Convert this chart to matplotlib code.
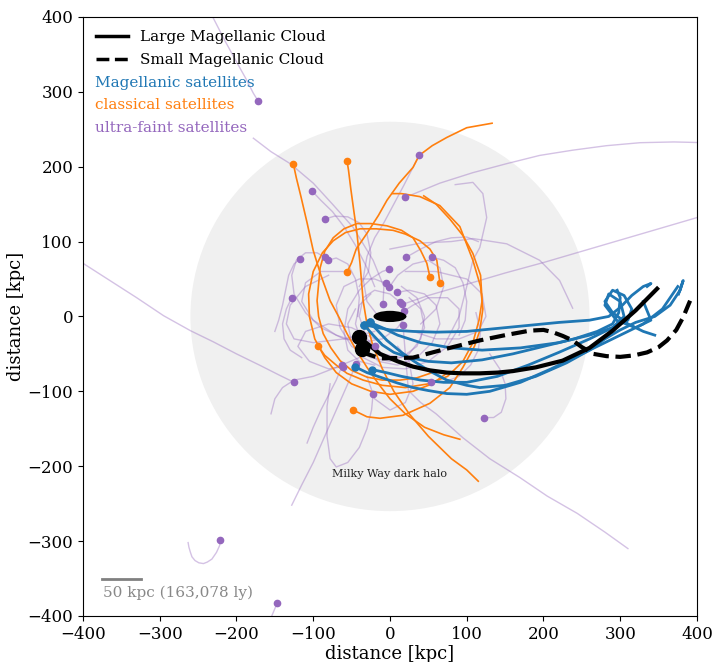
import matplotlib
matplotlib.use("Agg")
import matplotlib.pyplot as plt
from matplotlib.lines import Line2D
from matplotlib.patches import Circle, Ellipse

plt.rcParams['font.family'] = ['DejaVu Serif']

BLUE = '#1f77b4'
ORANGE = '#ff7f0e'
PURPLE = '#9467bd'

# ---- Magellanic Clouds (current position first) ----
lmc_x = [-40, -25, -13, 10, 30, 52, 74, 95, 117, 140, 160, 190, 225, 260, 290, 320, 348]
lmc_y = [-28, -40, -50, -60, -67, -72, -75, -76, -76, -75, -73, -68, -59, -42, -19, 8, 37]
smc_x = [-36, -30, -13, 30, 74, 117, 150, 182, 200, 212, 225, 238, 250, 265, 282, 300, 318, 335, 350, 361, 373, 382, 391]
smc_y = [-44, -50, -56, -55, -43, -32, -25, -19, -18, -21, -26, -32, -41, -50, -53, -54, -52, -48, -41, -32, -18, -1, 21]

# ---- Magellanic satellites (blue) ----
mag_trails = [
    ([-34, -20, 0, 30, 60, 100, 140, 180, 220, 260, 285, 300, 315, 330, 340, 335],
     [-11, -14, -18, -20, -21, -20, -16, -12, -8, -5, 0, 12, 28, 40, 44, 40]),
    ([-26, -15, -4, 15, 30, 50, 74, 100, 117, 150, 190, 230, 260, 280, 300, 320, 345, 365, 378, 382, 376],
     [-8, -20, -32, -48, -59, -72, -85, -92, -95, -92, -80, -62, -45, -30, -18, -8, 0, 15, 35, 48, 30]),
    ([-46, -30, -13, 10, 30, 50, 74, 100, 130, 170, 210, 240, 270, 300, 330, 355, 375],
     [-67, -75, -81, -89, -95, -99, -103, -104, -100, -88, -70, -55, -40, -25, -10, 10, 40]),
    ([-23, -5, 15, 40, 70, 100, 140, 180, 220, 260, 290, 305, 300, 285, 280, 295, 320, 340, 330],
     [-71, -75, -80, -85, -88, -88, -80, -65, -48, -30, -15, 0, 20, 30, 15, -5, -15, -5, 20]),
    ([-34, -22, -10, 5, 25, 50, 80, 120, 160, 200, 240, 270, 290, 298, 300, 296],
     [-11, -25, -38, -48, -55, -60, -62, -58, -50, -40, -30, -20, -10, 5, 25, 35]),
    ([-26, -10, 10, 40, 80, 120, 170, 220, 260, 290, 310, 315, 305, 290, 280, 290, 310, 330, 345],
     [-8, -15, -25, -35, -42, -45, -42, -35, -25, -15, -5, 10, 28, 35, 20, 5, -10, -20, -25]),
]

# ---- classical satellites (orange) ----
cls_trails = [
    ([-126, -122, -116, -108, -100, -90, -78, -66, -56, -44, -30, -15, 0, 20, 45, 70, 91],
     [204, 185, 160, 125, 88, 55, 21, -2, -23, -45, -68, -90, -110, -130, -148, -158, -164]),
    ([-56, -54, -51, -47, -43, -39, -35, -30, -22, -10, 5, 25, 50, 80, 100, 115],
     [208, 195, 170, 140, 111, 70, 21, -10, -40, -70, -100, -130, -160, -190, -205, -220]),
    ([-56, -50, -44, -30, -15, -4, 12, 30, 38, 55, 74, 100, 133],
     [59, 72, 90, 111, 135, 155, 178, 199, 215, 228, 239, 252, 258]),
    ([52, 48, 40, 30, 15, -4, -25, -43, -60, -74, -85, -91, -95, -93, -87, -77, -65, -50, -30, -10, 13, 35, 55],
     [53, 71, 88, 105, 115, 121, 124, 124, 117, 105, 87, 65, 21, 0, -23, -42, -59, -72, -81, -85, -85, -82, -75]),
    ([65, 63, 61, 52, 39, 20, 4, -18, -39, -58, -74, -88, -100, -106, -105, -98, -85, -70, -50, -25, 0, 30, 55, 75],
     [45, 60, 75, 90, 101, 110, 115, 117, 117, 112, 101, 85, 60, 30, 0, -30, -55, -75, -90, -100, -104, -100, -90, -75]),
    ([-48, -30, -13, 17, 52, 78, 95, 110, 117, 121, 118, 108, 91, 65, 39, 15, 3],
     [-125, -134, -136, -132, -116, -95, -68, -40, -19, 10, 40, 75, 120, 148, 160, 164, 164]),
    ([-94, -85, -70, -56, -35, -10, 20, 50, 75, 95, 108, 116, 120, 118, 108, 95, 78, 60, 44],
     [-39, -52, -65, -76, -85, -92, -95, -90, -80, -60, -35, -5, 21, 55, 84, 108, 130, 150, 161]),
]

# ---- ultra-faint satellites (purple) ----
uf_trails = [
    ([-172, -178, -188, -200, -215, -232], [288, 298, 318, 340, 368, 402]),
    ([38, 28, 18, 5, -8, -20, -30, -35, -30, -15], [215, 195, 175, 150, 125, 105, 80, 50, 20, 0]),
    ([20, 65, 108, 152, 195, 238, 282, 326, 370, 410], [159, 178, 192, 204, 215, 222, 228, 232, 233, 232]),
    ([16, 50, 87, 150, 200, 250, 300, 350, 400, 420], [16, 28, 39, 58, 72, 87, 102, 117, 132, 138]),
    ([-9, -8, -22, -48, -75, -100, -130, -155, -178], [17, 40, 75, 119, 150, 178, 204, 220, 238]),
    ([-102, -90, -75, -60, -45, -30, -20], [168, 155, 140, 120, 95, 65, 40]),
    ([-85, -72, -55, -40, -30, -25, -28, -40], [130, 134, 133, 125, 110, 85, 60, 40]),
    ([-117, -125, -132, -136, -140, -145, -150], [77, 70, 55, 35, 15, -5, -20]),
    ([-85, -95, -110, -122, -128, -125, -110, -90, -60, -30], [79, 85, 85, 75, 55, 30, 5, -15, -30, -35]),
    ([-81, -70, -55, -45, -40, -42], [75, 78, 70, 50, 25, 0]),
    ([-128, -135, -140, -138, -130, -115], [25, 10, -10, -30, -45, -55]),
    ([55, 70, 85, 95, 100, 98, 90], [79, 75, 65, 45, 20, -5, -25]),
    ([21, 40, 60, 80, 100, 115], [79, 90, 100, 105, 106, 100]),
    ([-1, -10, -25, -40, -55, -60, -55, -40, -20], [63, 60, 50, 35, 10, -20, -45, -60, -65]),
    ([-5, -20, -40, -60, -70, -65, -50, -25, 0, 25, 40, 45, 35, 15], [44, 50, 50, 40, 15, -15, -40, -55, -60, -50, -30, 0, 25, 40]),
    ([9, 25, 45, 60, 65, 55, 35, 10, -15, -35, -45, -40, -25], [32, 35, 30, 15, -10, -35, -55, -65, -60, -40, -10, 15, 30]),
    ([13, 0, -20, -35, -40, -30, -10, 15, 35, 45, 40, 25], [19, 30, 35, 25, 0, -30, -50, -55, -40, -15, 10, 25]),
    ([18, 30, 50, 75, 90, 90, 75, 50, 20, -10, -35, -50, -55, -45], [7, 15, 25, 25, 10, -15, -40, -60, -70, -68, -55, -35, -10, 10]),
    ([-1, 10, 30, 50, 65, 70, 60, 40], [39, 55, 70, 75, 65, 40, 10, -10]),
    ([-125, -143, -170, -200, -230, -260, -295, -330, -365, -400, -420], [-88, -79, -65, -50, -34, -19, 1, 25, 48, 71, 84]),
    ([17, 20, 24, 40, 60, 95, 130, 169, 205, 244, 280, 310], [-12, -50, -99, -115, -130, -162, -190, -215, -240, -263, -288, -310]),
    ([-44, -55, -70, -85, -100, -115, -128], [-63, -90, -125, -160, -195, -225, -252]),
    ([-62, -70, -80, -90, -100, -108], [-65, -85, -105, -125, -148, -169]),
    ([-22, -24, -30, -40, -55, -70, -78, -82, -82, -78], [-103, -125, -150, -175, -195, -201, -190, -160, -120, -90]),
    ([53, 70, 90, 105, 115, 118, 112], [-87, -88, -80, -65, -45, -20, 5]),
    ([122, 135, 145, 151, 150, 143, 130], [-135, -135, -128, -110, -90, -70, -50]),
    ([-221, -222, -226, -232, -238, -243, -249, -254, -258, -260, -262, -263], [-299, -306, -315, -324, -328, -330, -329, -326, -321, -315, -308, -302]),
    ([-147, -152, -156], [-383, -395, -405]),
    ([-61, -80, -105, -120, -110, -80, -50, -20], [-67, -70, -60, -40, -20, -10, -15, -30]),
    ([-20, -40, -75, -100, -125, -140, -150, -155], [-40, -55, -70, -80, -85, -95, -110, -130]),
]
uf_extra = [
    ([0, 40, 80, 108, 152, 195, 221, 238], [90, 98, 100, 104, 97, 75, 48, 11]),
    ([85, 108, 121, 126, 117, 108, 100, 90, 70], [176, 179, 164, 132, 92, 75, 40, 0, -40]),
    ([-60, -90, -110, -115, -100, -70, -40, -10, 10, 20], [60, 60, 45, 20, -5, -25, -35, -30, -15, 0]),
    ([20, 60, 100, 120, 125, 115, 90, 60, 30], [60, 60, 50, 30, 0, -20, -30, -30, -20]),
    ([-20, -60, -100, -125, -135, -130, -110, -80], [-20, -30, -35, -30, -10, 15, 40, 55]),
    ([-30, -20, 0, 20, 30, 25, 10], [-80, -110, -125, -115, -90, -60, -40]),
]

halo_radius = 260
halo_label = 'Milky Way dark halo'
scale_label = '50 kpc (163,078 ly)'
ticks = [-400, -300, -200, -100, 0, 100, 200, 300, 400]

fig = plt.figure(figsize=(7.14, 6.62), dpi=100)
ax = fig.add_axes([0.1162, 0.0695, 0.86, 0.905])

ax.add_patch(Circle((0, 0), halo_radius, facecolor='#f0f0f0', edgecolor='none', zorder=0))
ax.text(0, -211, halo_label, ha='center', va='center', fontsize=8, color='#222222', zorder=1)

for tx, ty in uf_trails + uf_extra:
    ax.plot(tx, ty, color=PURPLE, alpha=0.4, lw=1.0, zorder=2)
for tx, ty in uf_trails:
    ax.plot(tx[0], ty[0], 'o', color=PURPLE, ms=4.5, zorder=6)

for tx, ty in cls_trails:
    ax.plot(tx, ty, color=ORANGE, lw=1.2, zorder=3)
    ax.plot(tx[0], ty[0], 'o', color=ORANGE, ms=4.5, zorder=6)

for tx, ty in mag_trails:
    ax.plot(tx, ty, color=BLUE, lw=2.0, zorder=4)
    ax.plot(tx[0], ty[0], 'o', color=BLUE, ms=5, zorder=6)

ax.plot(lmc_x, lmc_y, color='black', lw=3, zorder=5)
ax.plot(smc_x, smc_y, color='black', lw=3, ls='--', zorder=5)
ax.plot(lmc_x[0], lmc_y[0], 'o', color='black', ms=10, zorder=7)
ax.plot(smc_x[0], smc_y[0], 'o', color='black', ms=10, zorder=7)
ax.add_patch(Ellipse((0, 0), 43, 15, facecolor='black', edgecolor='none', zorder=7))

# scale bar
ax.plot([-375, -325], [-350, -350], color='#808080', lw=2, zorder=8)
ax.text(-374, -359, scale_label, ha='left', va='top', fontsize=11, color='#888888', zorder=8)

handles = [Line2D([], [], color='black', lw=2.5, ls='-'),
           Line2D([], [], color='black', lw=2.5, ls='--')]
ax.legend(handles, ['Large Magellanic Cloud', 'Small Magellanic Cloud'], loc='upper left',
          frameon=False, fontsize=11, handlelength=2.1, handletextpad=0.8, borderaxespad=0.45,
          labelspacing=0.6)
ax.text(-384, 312, 'Magellanic satellites', color=BLUE, fontsize=11, va='center', ha='left')
ax.text(-384, 283, 'classical satellites', color=ORANGE, fontsize=11, va='center', ha='left')
ax.text(-384, 252, 'ultra-faint satellites', color=PURPLE, fontsize=11, va='center', ha='left')

ax.set_xlim(-400, 400)
ax.set_ylim(-400, 400)
ax.set_xticks(ticks)
ax.set_yticks(ticks)
ax.tick_params(labelsize=12)
ax.set_xlabel('distance [kpc]', fontsize=13, labelpad=2)
ax.set_ylabel('distance [kpc]', fontsize=13, labelpad=2)

fig.savefig('out.png', dpi=100)
